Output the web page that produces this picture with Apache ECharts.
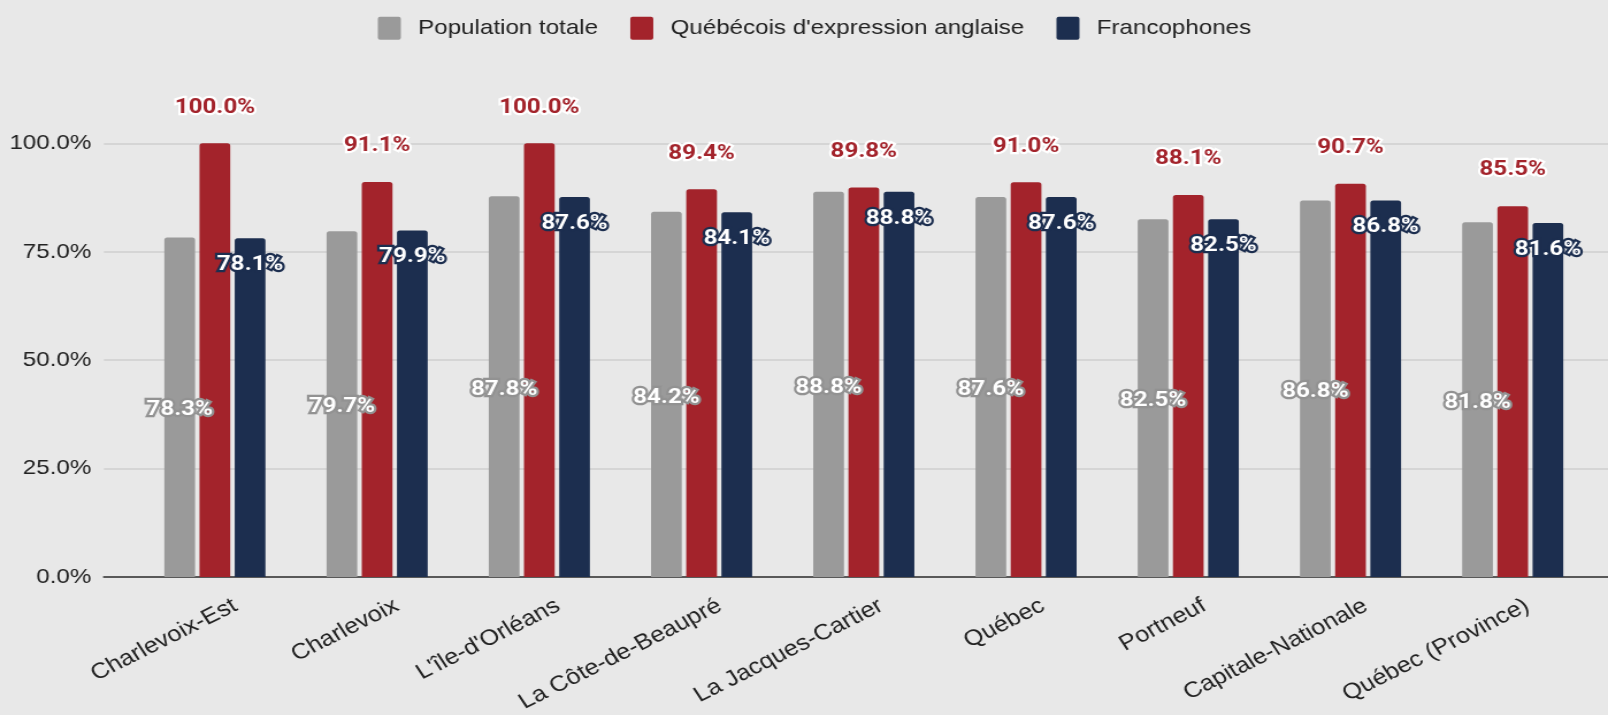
<!DOCTYPE html>
<html lang="fr">
<head>
<meta charset="utf-8">
<title>Taux d'emploi – Capitale-Nationale</title>
<script src="https://cdn.jsdelivr.net/npm/echarts@6/dist/echarts.min.js"></script>
<style>
  html, body { margin: 0; padding: 0; background: #e8e8e8; overflow: hidden; }
  /* The chart is laid out at 1398 px and widened to the 1608 px frame */
  #chart { width: 1398px; height: 715px; transform: scaleX(1.15021); transform-origin: 0 0; }
</style>
</head>
<body>
<div id="chart"></div>
<script>
const categories = [
  'Charlevoix-Est', 'Charlevoix', "L'île-d'Orléans", 'La Côte-de-Beaupré',
  'La Jacques-Cartier', 'Québec', 'Portneuf', 'Capitale-Nationale', 'Québec (Province)'
];
const seriesNames = ['Population totale', "Québécois d'expression anglaise", 'Francophones'];
const populationTotale = [78.3, 79.7, 87.8, 84.2, 88.8, 87.6, 82.5, 86.8, 81.8];
const expressionAnglaise = [100.0, 91.1, 100.0, 89.4, 89.8, 91.0, 88.1, 90.7, 85.5];
const francophones = [78.1, 79.9, 87.6, 84.1, 88.8, 87.6, 82.5, 86.8, 81.6];
const yTicks = { min: 0, max: 100, interval: 25 };

const GRAY = '#9a9a9a', RED = '#a3232b', NAVY = '#1c2e4f';
const pct = v => v.toFixed(1) + '%';
const labelFont = { fontFamily: 'Roboto', fontWeight: 'bold', fontSize: 21 };
const axisFamily = '"Liberation Sans", Arial, sans-serif';

const plotTop = 143.3, plotBottom = 138;

const chart = echarts.init(document.getElementById('chart'));
chart.setOption({
  backgroundColor: '#e8e8e8',
  animation: false,
  legend: {
    left: 323.5, top: 11.7,
    itemWidth: 20, itemHeight: 23, itemGap: 28,
    icon: 'path://M2,0H18A2,2,0,0,1,20,2V21A2,2,0,0,1,18,23H2A2,2,0,0,1,0,21V2A2,2,0,0,1,2,0Z',
    textStyle: { fontFamily: axisFamily, fontSize: 21, color: '#222', padding: [0, 0, 0, 10] },
    data: seriesNames
  },
  grid: [
    // frame: gridlines, y labels and baseline
    { left: 90.4, right: 0, top: plotTop, bottom: plotBottom },
    // bars
    { left: 116.3, right: 12.3, top: plotTop, bottom: plotBottom },
    // slanted category labels
    { left: 134.3, right: -5.7, top: plotTop, bottom: plotBottom }
  ],
  xAxis: [
    { gridIndex: 0, type: 'value', min: 0, max: 1,
      axisLine: { show: true, onZero: false, lineStyle: { color: '#595959', width: 2 } },
      axisTick: { show: false }, axisLabel: { show: false }, splitLine: { show: false } },
    { gridIndex: 1, type: 'category', data: categories,
      axisLine: { show: false }, axisTick: { show: false }, axisLabel: { show: false } },
    { gridIndex: 2, type: 'category', data: categories,
      axisLine: { show: false }, axisTick: { show: false },
      axisLabel: { fontFamily: axisFamily, fontSize: 22, color: '#222', rotate: 30, margin: 33, interval: 0 } }
  ],
  yAxis: [
    { gridIndex: 0, type: 'value', ...yTicks,
      axisLine: { show: false }, axisTick: { show: false },
      axisLabel: { fontFamily: axisFamily, fontSize: 21, color: '#222', margin: 11, formatter: pct },
      splitLine: { lineStyle: { color: '#cfcfcf', width: 1.5 } } },
    { gridIndex: 1, type: 'value', ...yTicks, show: false, splitLine: { show: false } },
    { gridIndex: 2, type: 'value', ...yTicks, show: false, splitLine: { show: false } }
  ],
  series: [
    { name: seriesNames[0], type: 'bar', xAxisIndex: 1, yAxisIndex: 1,
      data: populationTotale, barWidth: 26.7, barGap: '14.6%',
      itemStyle: { color: GRAY, borderRadius: [2.5, 2.5, 0, 0] },
      label: { show: true, position: 'inside', offset: [0, 3], formatter: p => pct(p.value),
        ...labelFont, color: '#fff', textBorderColor: '#929292', textBorderWidth: 4.5 } },
    { name: seriesNames[1], type: 'bar', xAxisIndex: 1, yAxisIndex: 1,
      data: expressionAnglaise, barWidth: 26.7, barGap: '14.6%',
      itemStyle: { color: RED, borderRadius: [2.5, 2.5, 0, 0] },
      label: { show: true, position: 'top', distance: 25.5, formatter: p => pct(p.value),
        ...labelFont, color: RED, textBorderColor: '#fff', textBorderWidth: 4.5 } },
    { name: seriesNames[2], type: 'bar', xAxisIndex: 1, yAxisIndex: 1,
      data: francophones, barWidth: 26.7, barGap: '14.6%',
      itemStyle: { color: NAVY, borderRadius: [2.5, 2.5, 0, 0] },
      label: { show: true, position: 'insideTop', distance: 16, formatter: p => pct(p.value),
        ...labelFont, color: '#fff', textBorderColor: NAVY, textBorderWidth: 4.5 } }
  ]
});
</script>
</body>
</html>
